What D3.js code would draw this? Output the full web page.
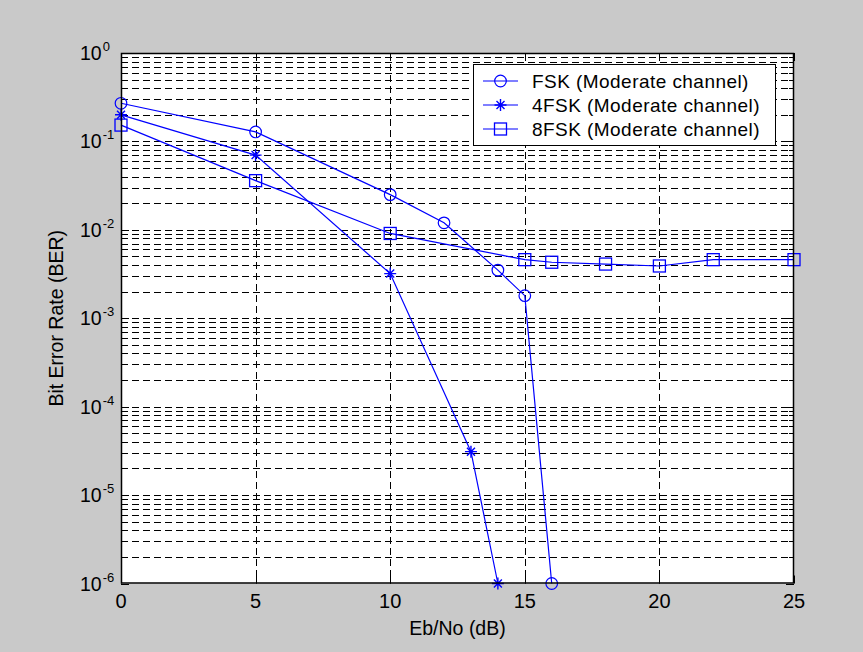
<!DOCTYPE html>
<html><head><meta charset="utf-8">
<script src="https://cdn.jsdelivr.net/npm/d3@7"></script>
<style>
html,body{margin:0;padding:0;background:#c9c9c9;}
svg{display:block;}
text{font-family:"Liberation Sans",Arial,sans-serif;fill:#000;}
</style></head>
<body>
<svg id="chart" width="863" height="652"></svg>
<script>
// ---- data ----
const xTicks = [0, 5, 10, 15, 20, 25];
const yExponents = [0, -1, -2, -3, -4, -5, -6];
const xLabel = "Eb/No (dB)";
const yLabel = "Bit Error Rate (BER)";
const seriesNames = ["FSK (Moderate channel)", "4FSK (Moderate channel)", "8FSK (Moderate channel)"];
const fskX = [0, 5, 10, 12, 14, 15, 16];
const fskBER = [0.27, 0.128, 0.025, 0.012, 0.0035, 0.0018, 1e-6];
const fsk4X = [0, 5, 10, 13, 14];
const fsk4BER = [0.20, 0.070, 0.0032, 3.1e-5, 1e-6];
const fsk8X = [0, 5, 10, 15, 16, 18, 20, 22, 25];
const fsk8BER = [0.153, 0.036, 0.0091, 0.0046, 0.0043, 0.0041, 0.0039, 0.0046, 0.0046];
const markers = ["circle", "star", "square"];

// ---- layout ----
const L = 121, R = 794, T = 53, B = 583.5;
const svg = d3.select("#chart");
const x = d3.scaleLinear().domain([0, 25]).range([L, R]);
const y = d3.scaleLog().domain([1e-6, 1]).range([B, T]);
const blue = "#0000ff";

svg.append("rect").attr("x", L).attr("y", T).attr("width", R - L).attr("height", B - T).attr("fill", "#fff");

// grid
const g = svg.append("g");
const minorVals = [];
for (let e = -6; e < 0; e++) for (let m = 1; m <= 9; m++) minorVals.push(m * Math.pow(10, e));
g.selectAll(".hg").data(minorVals.filter(v => v > 1e-6)).enter().append("line")
  .attr("x1", L).attr("x2", R).attr("y1", d => Math.round(y(d)) + 0.5).attr("y2", d => Math.round(y(d)) + 0.5)
  .attr("stroke", "#000").attr("stroke-width", 1).attr("stroke-dasharray", "7,4");
g.selectAll(".vg").data(xTicks.filter(d => d > 0 && d < 25)).enter().append("line")
  .attr("x1", d => Math.round(x(d)) + 0.5).attr("x2", d => Math.round(x(d)) + 0.5).attr("y1", T).attr("y2", B)
  .attr("stroke", "#000").attr("stroke-width", 1).attr("stroke-dasharray", "7,4");

// ticks (inward, on all sides)
const tk = svg.append("g").attr("stroke", "#000").attr("stroke-width", 1);
minorVals.concat([1]).forEach(v => {
  const yy = Math.round(y(v)) + 0.5;
  const len = (Math.abs(Math.log10(v) - Math.round(Math.log10(v))) < 1e-9) ? 8 : 5;
  tk.append("line").attr("x1", L).attr("x2", L + len).attr("y1", yy).attr("y2", yy);
  tk.append("line").attr("x1", R).attr("x2", R - len).attr("y1", yy).attr("y2", yy);
});
xTicks.forEach(v => {
  const xx = Math.round(x(v)) + 0.5;
  tk.append("line").attr("x1", xx).attr("x2", xx).attr("y1", B).attr("y2", B - 8);
  tk.append("line").attr("x1", xx).attr("x2", xx).attr("y1", T).attr("y2", T + 8);
});

// markers
function drawMarker(sel, type, cx, cy) {
  if (type === "circle") {
    sel.append("circle").attr("cx", cx).attr("cy", cy).attr("r", 5.8).attr("fill", "none").attr("stroke", blue).attr("stroke-width", 1.2);
  } else if (type === "square") {
    sel.append("rect").attr("x", cx - 6).attr("y", cy - 6).attr("width", 12).attr("height", 12).attr("fill", "none").attr("stroke", blue).attr("stroke-width", 1.3);
  } else {
    const p = `M${cx - 6},${cy}H${cx + 6}M${cx},${cy - 6}V${cy + 6}M${cx - 4},${cy - 4}L${cx + 4},${cy + 4}M${cx - 4},${cy + 4}L${cx + 4},${cy - 4}`;
    sel.append("path").attr("d", p).attr("stroke", blue).attr("stroke-width", 1.4).attr("fill", "none");
  }
}

const series = [[fskX, fskBER], [fsk4X, fsk4BER], [fsk8X, fsk8BER]];
const line = d3.line().x(d => x(d[0])).y(d => y(d[1]));
series.forEach((s, i) => {
  const pts = s[0].map((v, j) => [v, s[1][j]]);
  svg.append("path").attr("d", line(pts)).attr("fill", "none").attr("stroke", blue).attr("stroke-width", 1.2);
  const mg = svg.append("g");
  pts.forEach(p => drawMarker(mg, markers[i], x(p[0]), y(p[1])));
});

// frame
svg.append("rect").attr("x", L + 0.5).attr("y", T + 0.5).attr("width", R - L - 1).attr("height", B - T - 1)
  .attr("fill", "none").attr("stroke", "#000").attr("stroke-width", 1.5);

// tick labels
xTicks.forEach(v => {
  svg.append("text").attr("x", x(v)).attr("y", 608).attr("text-anchor", "middle").attr("font-size", 20).text(v);
});
yExponents.forEach(e => {
  const t = svg.append("text").attr("x", 80).attr("y", y(Math.pow(10, e)) + 7).attr("font-size", 19.5);
  t.append("tspan").text("10");
  t.append("tspan").attr("dy", -9).attr("dx", 1).attr("font-size", 13).text(e);
});

// axis labels
svg.append("text").attr("x", (L + R) / 2).attr("y", 635).attr("text-anchor", "middle").attr("font-size", 19.5).text(xLabel);
svg.append("text").attr("transform", `translate(63,${(T + B) / 2}) rotate(-90)`).attr("text-anchor", "middle").attr("font-size", 19.5).text(yLabel);

// legend
const lg = svg.append("g");
lg.append("rect").attr("x", 473.5).attr("y", 64.5).attr("width", 302).attr("height", 81).attr("fill", "#fff").attr("stroke", "#000").attr("stroke-width", 1);
seriesNames.forEach((name, i) => {
  const cy = 81 + i * 24;
  lg.append("line").attr("x1", 483).attr("x2", 518).attr("y1", cy).attr("y2", cy).attr("stroke", blue).attr("stroke-width", 1.2);
  drawMarker(lg, markers[i], 500.5, cy);
  lg.append("text").attr("x", 532).attr("y", cy + 6.5).attr("font-size", 19).attr("letter-spacing", 0.45).text(name);
});
</script>
</body></html>
